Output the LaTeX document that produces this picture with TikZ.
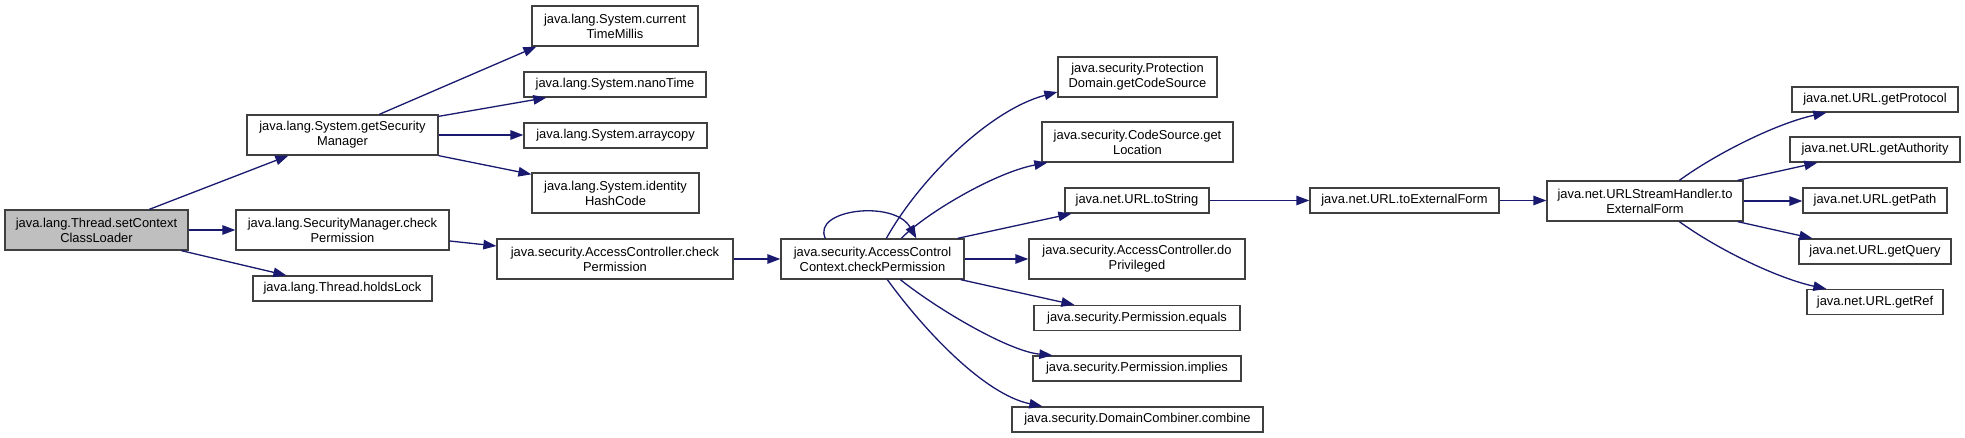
\documentclass[tikz,border=0pt]{standalone}
\usepackage{fontspec}
\setmainfont{Liberation Sans}
\usetikzlibrary{arrows.meta}
\definecolor{edgec}{HTML}{191970}
\definecolor{rootfill}{HTML}{BFBFBF}
\begin{document}
\begin{tikzpicture}[x=1pt,y=-1pt,
  box/.style={draw=black!75, line width=1.3pt, fill=white, inner sep=0pt, align=center, font=\fontsize{12.9}{15}\selectfont},
  rootbox/.style={box, fill=rootfill},
  edge/.style={draw=edgec, line width=1.3pt, -{Triangle[length=13pt,width=9.5pt]}}
]
\useasboundingbox (0,0) rectangle (1965,438);
\fill[white] (0,0) rectangle (1965,438);

% nodes
\node[rootbox, minimum width=183pt, minimum height=40pt] (root) at (96.5,230) {java.lang.Thread.setContext\\ClassLoader};
\node[box, minimum width=191pt, minimum height=40pt] (gsm) at (342.5,135) {java.lang.System.getSecurity\\Manager};
\node[box, minimum width=213pt, minimum height=40pt] (smcp) at (342.5,230) {java.lang.SecurityManager.check\\Permission};
\node[box, minimum width=179pt, minimum height=25pt] (hl) at (342.5,288.5) {java.lang.Thread.holdsLock};
\node[box, minimum width=166pt, minimum height=40pt] (ctm) at (615,26) {java.lang.System.current\\TimeMillis};
\node[box, minimum width=182pt, minimum height=25pt] (nano) at (615,84.5) {java.lang.System.nanoTime};
\node[box, minimum width=183pt, minimum height=25pt] (arr) at (615.5,135.5) {java.lang.System.arraycopy};
\node[box, minimum width=167pt, minimum height=40pt] (ihc) at (615.5,193) {java.lang.System.identity\\HashCode};
\node[box, minimum width=236pt, minimum height=40pt] (accp) at (615,259) {java.security.AccessController.check\\Permission};
\node[box, minimum width=183pt, minimum height=40pt] (accx) at (872.5,259) {java.security.AccessControl\\Context.checkPermission};
\node[box, minimum width=159pt, minimum height=40pt] (pd) at (1137.5,77) {java.security.Protection\\Domain.getCodeSource};
\node[box, minimum width=191pt, minimum height=40pt] (cs) at (1137.5,142) {java.security.CodeSource.get\\Location};
\node[box, minimum width=144pt, minimum height=25pt] (uts) at (1137,200.5) {java.net.URL.toString};
\node[box, minimum width=216pt, minimum height=40pt] (dp) at (1137,259) {java.security.AccessController.do\\Privileged};
\node[box, minimum width=206pt, minimum height=25pt] (peq) at (1137,318) {java.security.Permission.equals};
\node[box, minimum width=208pt, minimum height=25pt] (pim) at (1137,368.5) {java.security.Permission.implies};
\node[box, minimum width=251pt, minimum height=25pt] (dc) at (1137.5,419.5) {java.security.DomainCombiner.combine};
\node[box, minimum width=189pt, minimum height=25pt] (tef) at (1404.5,200.5) {java.net.URL.toExternalForm};
\node[box, minimum width=196pt, minimum height=40pt] (ush) at (1645,201) {java.net.URLStreamHandler.to\\ExternalForm};
\node[box, minimum width=166pt, minimum height=25pt] (gp) at (1875,99.5) {java.net.URL.getProtocol};
\node[box, minimum width=170pt, minimum height=25pt] (ga) at (1875,149.5) {java.net.URL.getAuthority};
\node[box, minimum width=144pt, minimum height=25pt] (gpath) at (1875,200.5) {java.net.URL.getPath};
\node[box, minimum width=152pt, minimum height=25pt] (gq) at (1875,251.5) {java.net.URL.getQuery};
\node[box, minimum width=136pt, minimum height=25pt] (gr) at (1875,302) {java.net.URL.getRef};

% edges
\draw[edge] ([xshift=145pt]root.north west) -- ([xshift=42pt]gsm.south west);
\draw[edge] (root.east) -- (root.east -| smcp.west);
\draw[edge] ([xshift=177pt]root.south west) -- ([xshift=34pt]hl.north west);
\draw[edge] ([xshift=133pt]gsm.north west) -- ([xshift=5pt]ctm.south west);
\draw[edge] ([yshift=-2pt]gsm.north east) -- ([xshift=23pt]nano.south west);
\draw[edge] (gsm.east) -- (gsm.east -| arr.west);
\draw[edge] (gsm.south east) -- ([yshift=-2pt]ihc.north west);
\draw[edge] ([yshift=-11pt]smcp.east) -- ([yshift=13pt]accp.west);
\draw[edge] (accp.east) -- (accx.west);
\draw[edge] ([xshift=45pt]accx.north west) .. controls +(-14,-29) and +(-22,-39) .. ([xshift=136pt]accx.north west);
\draw[edge] ([xshift=106pt]accx.north west) .. controls +(33,-59) and +(-68,18) .. ([yshift=-15pt]pd.west);
\draw[edge] ([xshift=121pt]accx.north west) .. controls +(23,-24) and +(-53,10) .. ([xshift=6pt]cs.south west);
\draw[edge] ([xshift=-7pt]accx.north east) -- ([xshift=7pt]uts.south west);
\draw[edge] (accx.east) -- (dp.west);
\draw[edge] ([xshift=-4pt]accx.south east) -- ([xshift=41pt]peq.north west);
\draw[edge] ([xshift=120pt]accx.south west) .. controls +(39,31) and +(-43,-4) .. ([xshift=20pt]pim.north west);
\draw[edge] ([xshift=107pt]accx.south west) .. controls +(37,51) and +(-58,-12) .. ([xshift=31pt]dc.north west);
\draw[edge] (uts.east) -- (tef.west);
\draw[edge] (tef.east) -- (tef.east -| ush.west);
\draw[edge] ([xshift=133pt]ush.north west) .. controls +(40,-29) and +(-47,10) .. ([xshift=35pt]gp.south west);
\draw[edge] ([xshift=-6pt]ush.north east) -- ([xshift=28pt]ga.south west);
\draw[edge] (ush.east) -- (ush.east -| gpath.west);
\draw[edge] ([xshift=-6pt]ush.south east) -- ([xshift=14pt]gq.north west);
\draw[edge] ([xshift=133pt]ush.south west) .. controls +(40,29) and +(-47,-10) .. ([xshift=20pt]gr.north west);
\end{tikzpicture}
\end{document}
